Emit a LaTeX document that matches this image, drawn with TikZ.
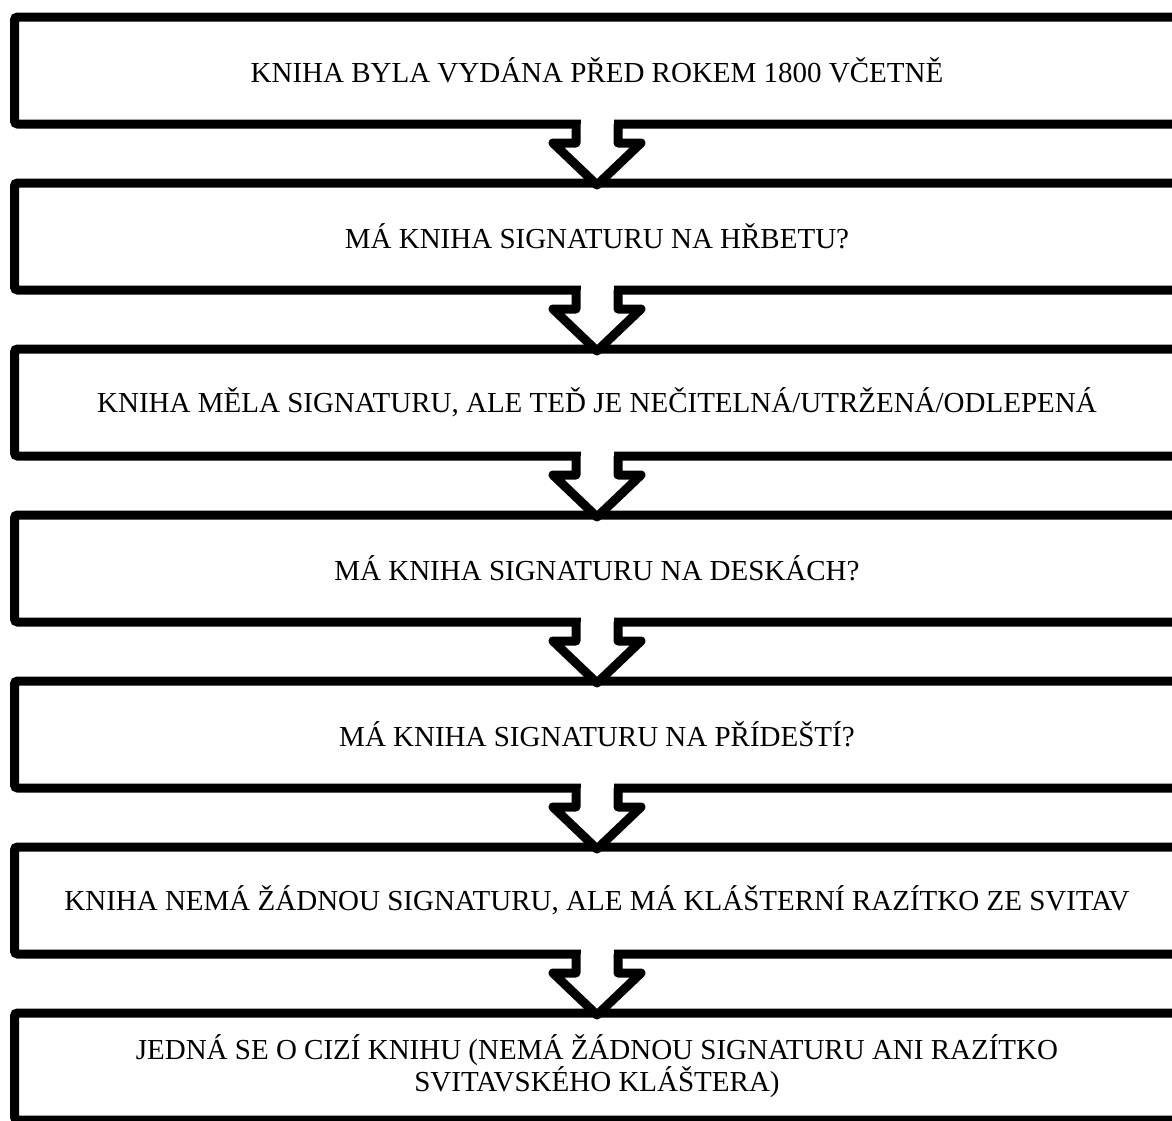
\documentclass[tikz,border=0pt]{standalone}
\usepackage{fontspec}
\setmainfont{Liberation Serif}
\usetikzlibrary{positioning,calc,shadows}

\newcommand{\flowarrow}[2]{%
  % erase the box line between the stem walls
  \fill[white] ($(#1.south)+(-16.5,5)$) rectangle ($(#1.south)+(16.5,-19)$);
  \filldraw[flowarrow] ($(#1.south)+(-21,0)$) -- ++(0,-19) -- ++(-23,0)
    -- ($(#2.north)+(0,-2)$) -- ($(#1.south)+(44,-19)$) -- ++(-23,0) -- ++(0,19);
}

\begin{document}
\begin{tikzpicture}[x=1pt,y=1pt]
    \tikzset{
      box/.style={draw=black, fill=white, line width=9pt, rounded corners=3pt,
        minimum width=1165pt, minimum height=107pt, outer sep=0pt,
        inner sep=0pt, align=center, font=\fontsize{29}{29}\selectfont,
        drop shadow={opacity=0.2, shadow xshift=0.5pt, shadow yshift=-4pt}},
      flowarrow/.style={draw=black, fill=white, line width=9pt, line join=round}
    }
    \useasboundingbox (0,0) rectangle (1172,-1120);
    \node[box] (b1) at (597,-70.5) {KNIHA BYLA VYDÁNA PŘED ROKEM 1800 VČETNĚ};
    \node[box, below=59pt of b1] (b2) {MÁ KNIHA SIGNATURU NA HŘBETU?};
    \node[box, below=59pt of b2] (b3) {KNIHA MĚLA SIGNATURU, ALE TEĎ JE NEČITELNÁ/UTRŽENÁ/ODLEPENÁ};
    \node[box, below=59pt of b3] (b4) {MÁ KNIHA SIGNATURU NA DESKÁCH?};
    \node[box, below=59pt of b4] (b5) {MÁ KNIHA SIGNATURU NA PŘÍDEŠTÍ?};
    \node[box, below=59pt of b5] (b6) {KNIHA NEMÁ ŽÁDNOU SIGNATURU, ALE MÁ KLÁŠTERNÍ RAZÍTKO ZE SVITAV};
    \node[box, below=59pt of b6] (b7) {JEDNÁ SE O CIZÍ KNIHU (NEMÁ ŽÁDNOU SIGNATURU ANI RAZÍTKO\\SVITAVSKÉHO KLÁŠTERA)};
    \foreach \a/\b in {b1/b2,b2/b3,b3/b4,b4/b5,b5/b6,b6/b7}
      \flowarrow{\a}{\b};
\end{tikzpicture}
\end{document}
